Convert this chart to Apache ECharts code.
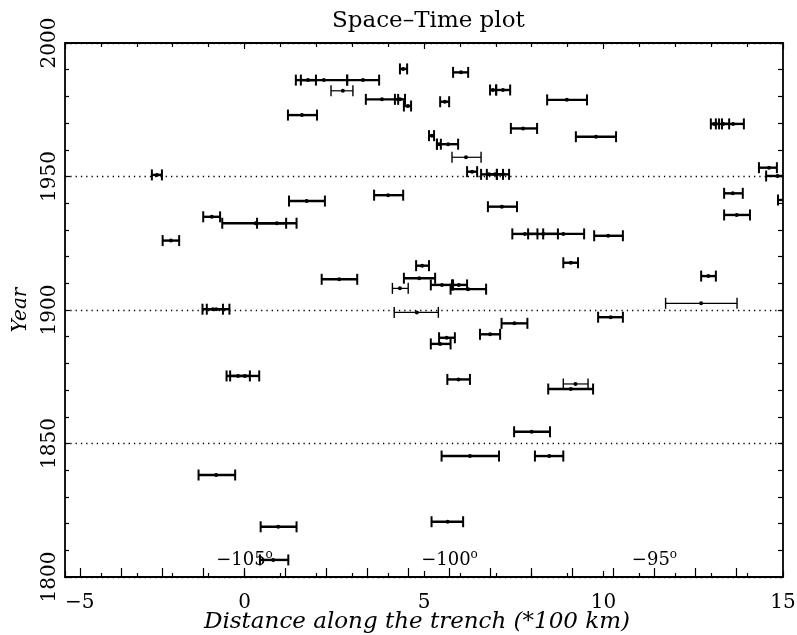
<!DOCTYPE html>
<html>
<head>
<meta charset="utf-8">
<script src="https://cdn.jsdelivr.net/npm/echarts@6/dist/echarts.min.js"></script>
<style>
html,body{margin:0;padding:0;background:#fff;}
#chart{width:797px;height:635px;}
</style>
</head>
<body>
<div id="chart"></div>
<script>
// ---- Data: heavy error bars (center, low, high along trench in *100 km; year) ----
const thickCenter = [1.77, 2.21, 3.30, 4.42, 6.03, 3.83, 4.33, 4.55, 5.58, 6.92, 7.20, 8.98, 7.76, 9.79, 5.22, 5.67, 5.42, 6.34, 6.81, 6.98, 7.20, 4.00, 7.17, 1.60, -2.44, 1.73, 13.08, 13.33, 13.61, 14.61, 14.85, 15.20, 13.60, 13.71, 10.13, 12.92, 10.20, -0.91, 0.31, 0.90, -2.05, 2.64, -0.88, -0.79, -0.18, 0.01, 7.81, 8.32, 8.88, 9.09, 4.95, 4.87, 5.50, 5.97, 6.23, 7.52, 6.84, 5.63, 5.45, 5.96, 9.09, 8.00, 6.28, 8.49, 5.66, -0.79, 0.94, 0.80];
const thickLow    = [1.43, 1.57, 2.86, 4.33, 5.81, 3.38, 4.19, 4.44, 5.45, 6.84, 7.01, 8.43, 7.42, 9.23, 5.14, 5.36, 5.36, 6.20, 6.59, 6.75, 7.03, 3.61, 6.78, 1.21, -2.58, 1.24, 12.99, 13.13, 13.30, 14.33, 14.53, 14.86, 13.36, 13.36, 9.74, 12.72, 9.85, -1.15, -0.62, 0.35, -2.28, 2.15, -1.17, -1.05, -0.50, -0.40, 7.46, 7.90, 8.32, 8.88, 4.78, 4.44, 5.19, 5.78, 5.74, 7.16, 6.56, 5.42, 5.19, 5.65, 8.46, 7.51, 5.49, 8.09, 5.21, -1.28, 0.45, 0.43];
const thickHigh   = [1.99, 2.86, 3.75, 4.53, 6.23, 4.28, 4.47, 4.64, 5.70, 7.01, 7.40, 9.54, 8.15, 10.35, 5.28, 5.95, 5.47, 6.48, 7.03, 7.20, 7.37, 4.42, 7.59, 2.02, -2.30, 2.24, 13.22, 13.50, 13.91, 14.83, 15.15, 15.50, 13.88, 14.08, 10.54, 13.13, 10.54, -0.68, 1.16, 1.45, -1.82, 3.14, -0.60, -0.42, 0.15, 0.41, 8.16, 8.73, 9.46, 9.29, 5.14, 5.31, 5.81, 6.20, 6.73, 7.88, 7.12, 5.86, 5.74, 6.28, 9.71, 8.51, 7.09, 8.88, 6.09, -0.26, 1.45, 1.22];
const thickYear   = [1986.1, 1986.1, 1986.1, 1990.3, 1989.0, 1978.9, 1978.9, 1976.4, 1978.0, 1982.4, 1982.4, 1978.7, 1968.0, 1964.9, 1965.3, 1962.1, 1962.1, 1951.8, 1950.8, 1950.8, 1950.8, 1943.0, 1938.7, 1973.0, 1950.6, 1940.8, 1969.7, 1969.7, 1969.7, 1953.3, 1950.2, 1941.2, 1943.7, 1935.6, 1927.8, 1912.7, 1897.3, 1934.9, 1932.5, 1932.5, 1926.0, 1911.5, 1900.3, 1900.3, 1875.3, 1875.3, 1928.5, 1928.5, 1928.5, 1917.7, 1916.6, 1911.9, 1909.4, 1909.4, 1907.8, 1895.0, 1890.9, 1889.6, 1887.3, 1874.0, 1870.4, 1854.4, 1845.3, 1845.3, 1820.7, 1838.2, 1818.8, 1806.4];

// ---- Data: light error bars ----
const thinCenter = [2.74, 6.17, 12.72, 4.33, 4.80, 9.22];
const thinLow    = [2.41, 5.78, 11.73, 4.12, 4.17, 8.88];
const thinHigh   = [3.02, 6.59, 13.72, 4.56, 5.40, 9.57];
const thinYear   = [1982.1, 1957.2, 1902.5, 1908.1, 1899.1, 1872.3];

// ---- Longitude reference ticks along the trench ----
const lonTicks  = [-109, -108, -107, -106, -105, -104, -103, -102, -101, -100, -99, -98, -97, -96, -95, -94, -93];
const lonLabels = [-105, -100, -95];
const UNITS_PER_DEG = 1.142;   // trench distance (*100 km) per degree of longitude
const LON_AT_ZERO = -105;
const X_MIN = -5, X_MAX = 15;

const SERIF = '"DejaVu Serif", "Liberation Serif", serif';

function build(c, lo, hi, yr) {
  return c.map((v, i) => [v, lo[i], hi[i], yr[i]]);
}

function makeRender(lineW, capW) {
  return function (params, api) {
    const c = api.value(0), lo = api.value(1), hi = api.value(2), yr = api.value(3);
    const pL = api.coord([lo, yr]), pH = api.coord([hi, yr]), pC = api.coord([c, yr]);
    const h = 5.5;
    const st = { stroke: '#000', lineWidth: lineW };
    const cs = { stroke: '#000', lineWidth: capW };
    return {
      type: 'group',
      children: [
        { type: 'line', shape: { x1: pL[0], y1: pL[1], x2: pH[0], y2: pH[1] }, style: st },
        { type: 'line', shape: { x1: pL[0], y1: pL[1] - h, x2: pL[0], y2: pL[1] + h }, style: cs },
        { type: 'line', shape: { x1: pH[0], y1: pH[1] - h, x2: pH[0], y2: pH[1] + h }, style: cs },
        { type: 'circle', shape: { cx: pC[0], cy: pC[1], r: 2 }, style: { fill: '#000' } }
      ]
    };
  };
}

const chart = echarts.init(document.getElementById('chart'), null, { renderer: 'canvas' });

const axisLineStyle = { color: '#000', width: 1.8 };
const tickStyle = { color: '#000', width: 1.2 };

chart.setOption({
  animation: false,
  backgroundColor: '#fff',
  title: {
    text: 'Space\u2013Time plot',
    left: 327,
    top: 5,
    textStyle: { fontFamily: SERIF, fontSize: 23, fontWeight: 'normal', color: '#000' }
  },
  grid: { left: 65, right: 14, top: 43, bottom: 58, containLabel: false, outerBoundsMode: 'none' },
  xAxis: [
    {
      type: 'value', min: X_MIN, max: X_MAX, interval: 5, position: 'bottom',
      name: 'Distance along the trench (*100 km)',
      nameLocation: 'middle', nameGap: 34, nameMoveOverlap: false,
      nameTextStyle: { fontFamily: SERIF, fontStyle: 'italic', fontSize: 23, color: '#000', padding: [0, 14, 0, 0] },
      axisLine: { show: true, onZero: false, lineStyle: axisLineStyle },
      axisTick: { show: true, inside: true, length: 6, lineStyle: tickStyle },
      minorTick: { show: true, splitNumber: 5, length: 4, lineStyle: tickStyle },
      axisLabel: {
        fontFamily: SERIF, fontSize: 20, color: '#000', margin: 16,
        alignMinLabel: 'left',
        formatter: v => String(v).replace('-', '\u2212')
      },
      splitLine: { show: false }
    },
    {
      type: 'value', min: X_MIN, max: X_MAX, interval: 5, position: 'top',
      axisLine: { show: true, onZero: false, lineStyle: axisLineStyle },
      axisTick: { show: true, inside: true, length: 6, lineStyle: tickStyle },
      minorTick: { show: true, splitNumber: 5, length: 4, lineStyle: tickStyle },
      axisLabel: { show: false },
      splitLine: { show: false }
    },
    {
      type: 'value',
      min: LON_AT_ZERO + X_MIN / UNITS_PER_DEG,
      max: LON_AT_ZERO + X_MAX / UNITS_PER_DEG,
      position: 'bottom',
      axisLine: { show: false, onZero: false },
      axisTick: { show: true, inside: true, length: 9, customValues: lonTicks, lineStyle: tickStyle },
      axisLabel: {
        show: true, inside: true, margin: 8, customValues: lonLabels,
        formatter: v => '{n|' + String(v).replace('-', '\u2212') + '}{d|o}',
        rich: {
          n: { fontFamily: SERIF, fontSize: 18, color: '#000', lineHeight: 20, verticalAlign: 'bottom' },
          d: { fontFamily: SERIF, fontSize: 12, color: '#000', lineHeight: 20, verticalAlign: 'top' }
        }
      },
      splitLine: { show: false }
    }
  ],
  yAxis: [
    {
      type: 'value', min: 1800, max: 2000, interval: 50, position: 'left',
      name: 'Year', nameLocation: 'middle', nameGap: 34, nameRotate: 90, nameMoveOverlap: false,
      nameTextStyle: { fontFamily: SERIF, fontStyle: 'italic', fontSize: 20, color: '#000' },
      axisLine: { show: true, onZero: false, lineStyle: axisLineStyle },
      axisTick: { show: true, inside: true, length: 5, lineStyle: tickStyle },
      minorTick: { show: true, splitNumber: 5, length: 4, lineStyle: tickStyle },
      axisLabel: { fontFamily: SERIF, fontSize: 20, color: '#000', rotate: 90, margin: 5, formatter: v => String(v) },
      splitLine: { show: true, lineStyle: { color: '#000', width: 1.3, type: [1.3, 4] } }
    },
    {
      type: 'value', min: 1800, max: 2000, interval: 50, position: 'right',
      axisLine: { show: true, onZero: false, lineStyle: axisLineStyle },
      axisTick: { show: true, inside: true, length: 5, lineStyle: tickStyle },
      minorTick: { show: true, splitNumber: 5, length: 5, lineStyle: tickStyle },
      axisLabel: { show: false },
      splitLine: { show: false }
    }
  ],
  series: [
    {
      name: 'heavy', type: 'custom', xAxisIndex: 0, yAxisIndex: 0, clip: true,
      renderItem: makeRender(2.4, 2),
      encode: { x: [0, 1, 2], y: 3 },
      data: build(thickCenter, thickLow, thickHigh, thickYear)
    },
    {
      name: 'light', type: 'custom', xAxisIndex: 0, yAxisIndex: 0, clip: true,
      renderItem: makeRender(1.2, 1.4),
      encode: { x: [0, 1, 2], y: 3 },
      data: build(thinCenter, thinLow, thinHigh, thinYear)
    }
  ]
});
</script>
</body>
</html>
